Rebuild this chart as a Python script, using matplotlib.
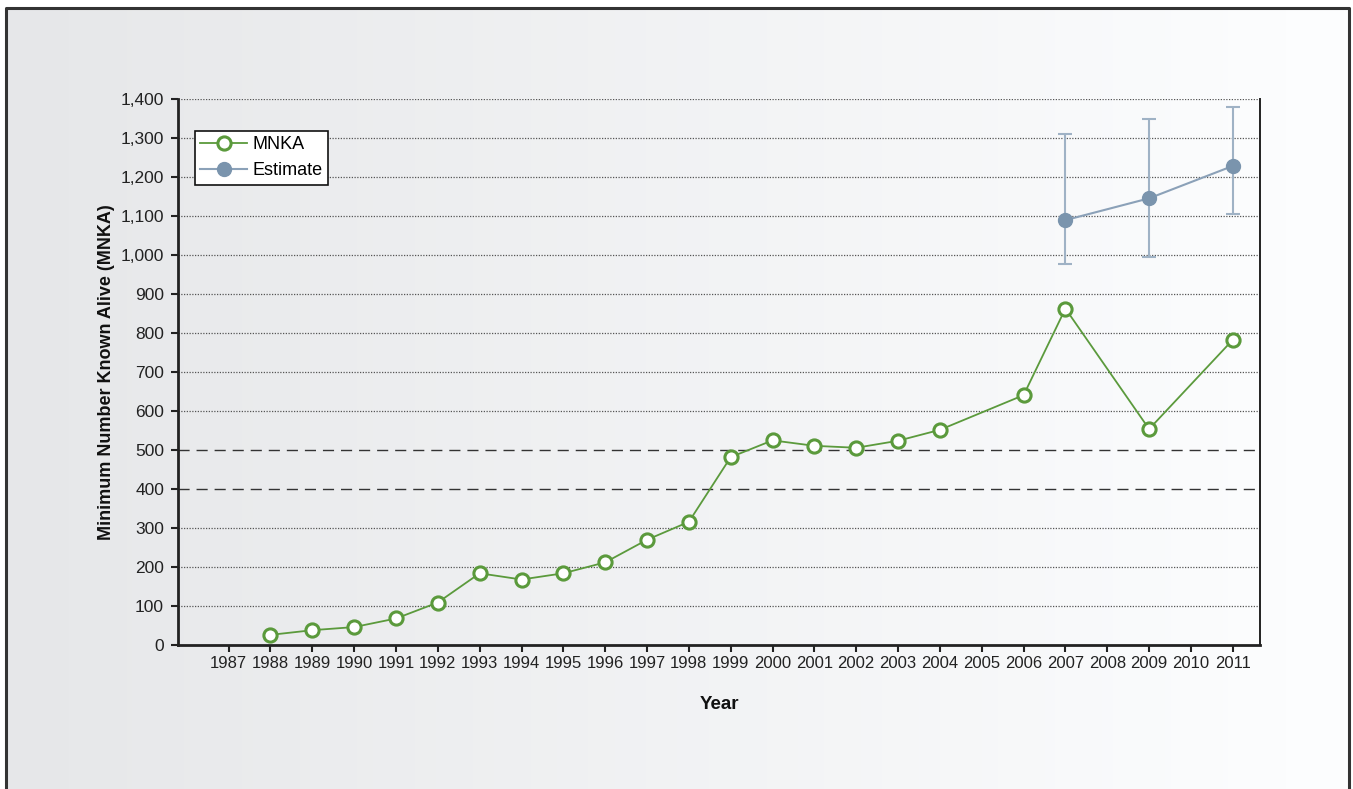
import numpy as np
import matplotlib
matplotlib.use("Agg")
import matplotlib.pyplot as plt
from matplotlib.ticker import FuncFormatter

plt.rcParams['font.family'] = ['Liberation Sans Narrow', 'Liberation Sans', 'DejaVu Sans']

years = [str(y) for y in range(1987, 2012)]
mnka_years = ['1988', '1989', '1990', '1991', '1992', '1993', '1994', '1995', '1996', '1997',
              '1998', '1999', '2000', '2001', '2002', '2003', '2004', '2006', '2007', '2009', '2011']
mnka_values = [26, 38, 46, 68, 109, 184, 168, 184, 212, 270,
               316, 482, 525, 511, 506, 524, 552, 641, 863, 554, 783]
est_years = ['2007', '2009', '2011']
est_values = [1090, 1146, 1229]
est_upper = [1311, 1349, 1380]
est_lower = [978, 996, 1107]
y_ticks = list(range(0, 1500, 100))
dashed_levels = [400, 500]

W, H = 1353, 789
fig = plt.figure(figsize=(W / 100, H / 100), dpi=100)

# background gradient
bg = fig.add_axes([0, 0, 1, 1], zorder=-10)
grad = np.linspace(0, 1, 256)
c0 = np.array([230, 231, 233]) / 255
c1 = np.array([253, 254, 255]) / 255
img = c0[None, None, :] * (1 - grad[None, :, None]) + c1[None, None, :] * grad[None, :, None]
bg.imshow(img, aspect='auto', extent=[6, 1349, 0, H - 8], origin='lower')
bg.set_xlim(0, W)
bg.set_ylim(0, H)
bg.axis('off')
bg.plot([6, 6, 1349, 1349], [-5, H - 8, H - 8, -5], color='#333333', lw=2.2, solid_capstyle='butt')

ax = fig.add_axes([178 / W, 1 - 645 / H, (1260 - 178) / W, (645 - 99.3) / H])
ax.patch.set_alpha(0)

idx = {y: i for i, y in enumerate(years)}
mx = [idx[y] for y in mnka_years]
ex = [idx[y] for y in est_years]

# gridlines
for v in y_ticks[1:]:
    if v in dashed_levels:
        ax.axhline(v, color='#333333', lw=1.0, ls=(0, (8, 5)), zorder=1)
    else:
        ax.axhline(v, color='#555555', lw=0.9, ls=(0, (1, 1.2)), zorder=1)

ecolor = '#9fb2c5'
yerr = np.array([[v - l for v, l in zip(est_values, est_lower)],
                 [u - v for v, u in zip(est_values, est_upper)]])
ax.errorbar(ex, est_values, yerr=yerr, fmt='none', ecolor=ecolor, elinewidth=1.5,
            capsize=5, capthick=1.5, zorder=3)
ax.plot(ex, est_values, color='#8ba1b8', lw=1.5, marker='o', markersize=10,
        markerfacecolor='#7a94ad', markeredgecolor='#7a94ad', label='Estimate', zorder=4)
ax.plot(mx, mnka_values, color='#5b9a3c', lw=1.3, marker='o', markersize=9.5,
        markerfacecolor='white', markeredgecolor='#5b9a3c', markeredgewidth=2.2,
        label='MNKA', zorder=5)

ax.set_xlim(-1.21, 24.65)
ax.set_ylim(0, 1400)
ax.set_xticks(range(len(years)))
ax.set_xticklabels(years, fontsize=12, color='#222222')
ax.set_yticks(y_ticks)
ax.yaxis.set_major_formatter(FuncFormatter(lambda v, p: f"{int(v):,}"))
ax.tick_params(axis='y', labelsize=12.5, colors='#222222', direction='out', length=5, width=1.5, pad=5)
ax.tick_params(axis='x', direction='out', length=5, width=1.5, pad=3, colors='#222222')

for s in ['left', 'bottom']:
    ax.spines[s].set_linewidth(2)
    ax.spines[s].set_color('#222222')
ax.spines['right'].set_linewidth(1.4)
ax.spines['right'].set_color('#222222')
ax.spines['top'].set_visible(False)

ax.set_xlabel('Year', fontsize=13.5, fontweight='bold', labelpad=18, color='#111111')
ax.set_ylabel('Minimum Number Known Alive (MNKA)', fontsize=13, fontweight='bold',
              labelpad=4, color='#111111')

handles, labels = ax.get_legend_handles_labels()
order = [labels.index('MNKA'), labels.index('Estimate')]
leg = ax.legend([handles[i] for i in order], [labels[i] for i in order],
                loc='upper left', bbox_to_anchor=((195 - 178) / (1260 - 178), 1 - (131 - 99.3) / (645 - 99.3)),
                borderaxespad=0,
                fontsize=13, frameon=True, fancybox=False, edgecolor='#111111',
                framealpha=1, borderpad=0.3, handlelength=2.6, handletextpad=0.3,
                labelspacing=0.5)
leg.get_frame().set_linewidth(1.2)

fig.savefig('out.png', dpi=100)
